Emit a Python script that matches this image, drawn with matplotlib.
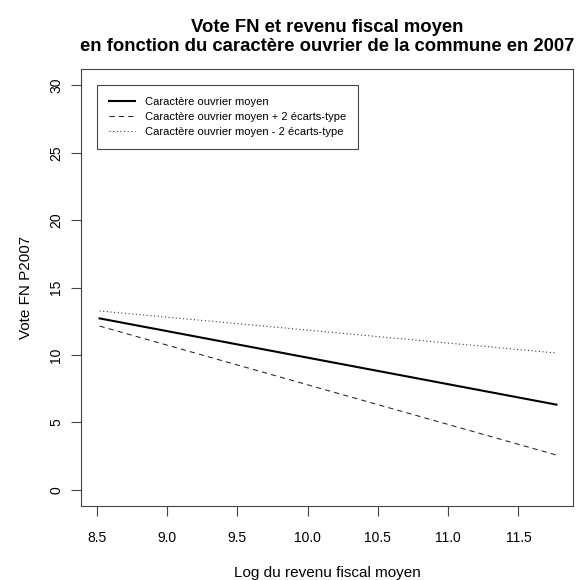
import matplotlib
matplotlib.use("Agg")
import matplotlib.pyplot as plt

# fitted values at the two ends of the income range
log_revenu = [8.52, 11.77]
vote_moyen = [12.72, 6.32]
vote_plus2sd = [12.15, 2.58]
vote_moins2sd = [13.27, 10.15]

labels = ["Caractère ouvrier moyen",
          "Caractère ouvrier moyen + 2 écarts-type",
          "Caractère ouvrier moyen - 2 écarts-type"]
xticks = [8.5, 9.0, 9.5, 10.0, 10.5, 11.0, 11.5]
yticks = [0, 5, 10, 15, 20, 25, 30]

plt.rcParams['font.family'] = ['Liberation Sans', 'DejaVu Sans']

fig = plt.figure(figsize=(5.79, 5.80), dpi=100)
ax = fig.add_axes([0.1404, 0.1276, 0.8498, 0.7529])

ax.plot(log_revenu, vote_moyen, color="black", lw=1.5, label=labels[0])
ax.plot(log_revenu, vote_plus2sd, color="#222222", lw=0.75, dashes=(5, 4), label=labels[1])
ax.plot(log_revenu, vote_moins2sd, color="#222222", lw=0.75, dashes=(1, 2.5), label=labels[2])

ax.set_xlim(8.39, 11.89)
ax.set_ylim(-1.2, 31.2)
ax.set_xticks(xticks)
ax.set_xticklabels([f"{v:.1f}" for v in xticks])
ax.set_yticks(yticks)
ax.set_yticklabels([str(v) for v in yticks], rotation=90, va="center")

for s in ax.spines.values():
    s.set_color("#444444")
    s.set_linewidth(0.8)
ax.tick_params(direction="out", length=7, width=0.8, color="#444444",
               labelsize=10, pad=11)
ax.tick_params(axis="y", pad=6)

ax.set_xlabel("Log du revenu fiscal moyen", fontsize=11, labelpad=15)
ax.set_ylabel("Vote FN P2007", fontsize=11, labelpad=12)
ax.set_title("Vote FN et revenu fiscal moyen\nen fonction du caractère ouvrier de la commune en 2007",
             fontsize=13.3, fontweight="bold", pad=13, linespacing=1.15)

leg = ax.legend(loc="upper left", bbox_to_anchor=(0.032, 0.964), fontsize=8.0,
                fancybox=False, edgecolor="#444444", framealpha=1,
                handlelength=2.3, handletextpad=0.9, labelspacing=0.45,
                borderpad=1.1, borderaxespad=0)
leg.get_frame().set_linewidth(0.8)

fig.savefig("out.png", dpi=100)
